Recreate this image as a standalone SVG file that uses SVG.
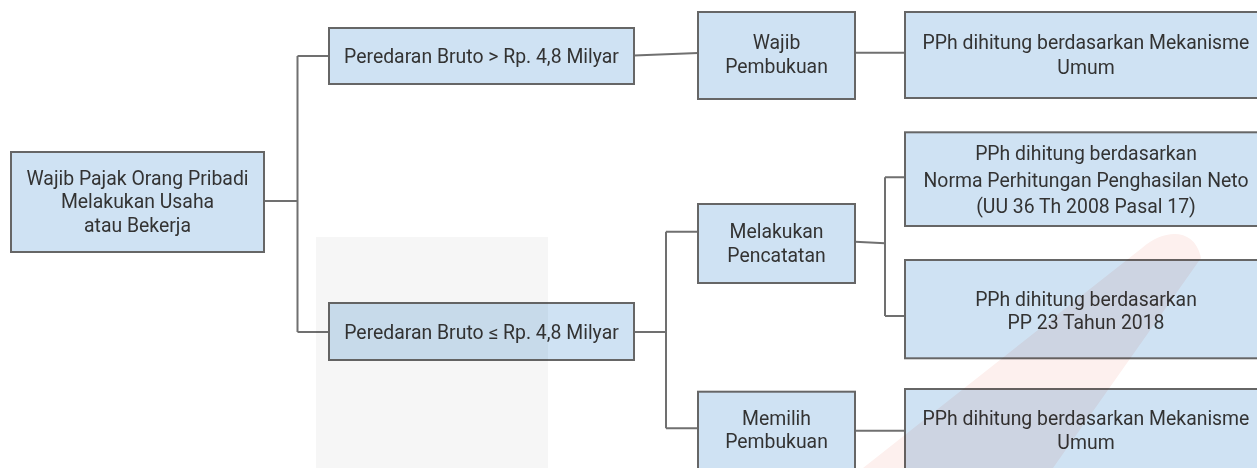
<svg xmlns="http://www.w3.org/2000/svg" width="1257" height="468" viewBox="0 0 1257 468">
<style>
.box{fill:#cfe2f3;stroke:#666666;stroke-width:2}
.t{font-family:Roboto,"Liberation Sans",sans-serif;font-size:19.4px;fill:#333333;text-anchor:middle}
.c{fill:none;stroke:#707070;stroke-width:2}
.wm{mix-blend-mode:multiply}
</style>
<rect x="0" y="0" width="1257" height="468" fill="#ffffff"/>
<g id="connectors">
<path class="c" d="M264 201 H297.5 M297.5 56 V332 M297.5 56 H329 M297.5 332 H329"/>
<path class="c" d="M634 55.5 L698 53"/>
<path class="c" d="M855 52.7 H905"/>
<path class="c" d="M634 332 H666 M666 231.7 V428.3 M666 231.7 H698 M666 428.3 H698"/>
<path class="c" d="M855 241.7 L885 243.3 M885 177.3 V316 M885 177.3 H905 M885 316 H905"/>
<path class="c" d="M855 430.7 H905"/>
</g>
<g id="n-wp">
<rect class="box" x="11" y="152" width="253" height="100"/>
<text class="t" x="137.5" y="185">Wajib Pajak Orang Pribadi</text>
<text class="t" x="137.5" y="208.3">Melakukan Usaha</text>
<text class="t" x="137.5" y="231.7">atau Bekerja</text>
</g>
<g id="n-gt">
<rect class="box" x="329" y="28" width="305" height="56"/>
<text class="t" x="481.5" y="63.3">Peredaran Bruto &gt; Rp. 4,8 Milyar</text>
</g>
<g id="n-le">
<rect class="box" x="329" y="303" width="305" height="57"/>
<text class="t" x="481.5" y="339">Peredaran Bruto ≤ Rp. 4,8 Milyar</text>
</g>
<g id="n-wajib">
<rect class="box" x="698" y="12" width="157" height="87"/>
<text class="t" x="776.5" y="49.3">Wajib</text>
<text class="t" x="776.5" y="72.7">Pembukuan</text>
</g>
<g id="n-pph1">
<rect class="box" x="905" y="12" width="362" height="86"/>
<text class="t" x="1086" y="49.3">PPh dihitung berdasarkan Mekanisme</text>
<text class="t" x="1086" y="74">Umum</text>
</g>
<g id="n-catat">
<rect class="box" x="698" y="204" width="157" height="79"/>
<text class="t" x="776.5" y="238.3">Melakukan</text>
<text class="t" x="776.5" y="261.7">Pencatatan</text>
</g>
<g id="n-norma">
<rect class="box" x="905" y="132.3" width="362" height="93.7"/>
<text class="t" x="1086" y="160">PPh dihitung berdasarkan</text>
<text class="t" x="1086" y="186.7">Norma Perhitungan Penghasilan Neto</text>
<text class="t" x="1086" y="213.3">(UU 36 Th 2008 Pasal 17)</text>
</g>
<g id="n-pp23">
<rect class="box" x="905" y="260" width="362" height="98.3"/>
<text class="t" x="1086" y="306">PPh dihitung berdasarkan</text>
<text class="t" x="1086" y="329.3">PP 23 Tahun 2018</text>
</g>
<g id="n-pilih">
<rect class="box" x="698" y="391.7" width="157" height="90"/>
<text class="t" x="776.5" y="425">Memilih</text>
<text class="t" x="776.5" y="448.3">Pembukuan</text>
</g>
<g id="n-pph2">
<rect class="box" x="905" y="389" width="362" height="90"/>
<text class="t" x="1086" y="425">PPh dihitung berdasarkan Mekanisme</text>
<text class="t" x="1086" y="449.3">Umum</text>
</g>
<g id="watermark">
<rect class="wm" x="316" y="237" width="232" height="231" fill="#f6f6f6"/>
<path class="wm" d="M863 468 L1142 248 C1165 228 1195 228 1201 258 L1053 468 Z" fill="#fdf0ee"/>
</g>
</svg>
